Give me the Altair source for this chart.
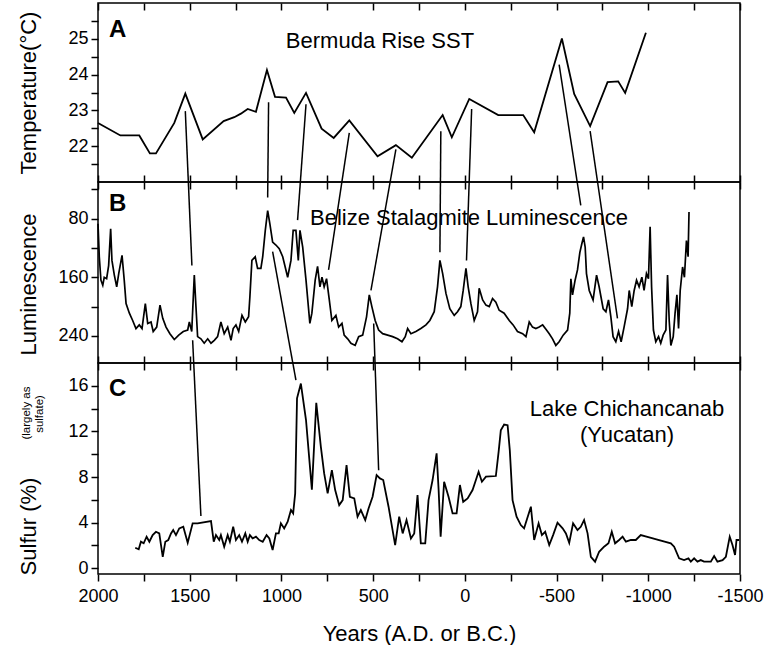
import altair as alt
import pandas as pd

FONT = "Liberation Sans"

# ---------------- Panel A: Bermuda Rise SST ----------------
sst_year = [2000, 1878, 1775, 1717, 1684, 1584, 1524, 1429, 1315, 1257,
            1221, 1184, 1139, 1079, 1035, 975, 930, 866, 781, 715,
            630, 476, 376, 289, 121, 71, -24, -182, -318, -378,
            -529, -596, -683, -778, -836, -874, -987]
sst_temp = [22.65, 22.30, 22.30, 21.80, 21.80, 22.65, 23.47, 22.19, 22.70, 22.81,
            22.91, 23.04, 22.96, 24.13, 23.38, 23.36, 22.93, 23.49, 22.49, 22.23,
            22.72, 21.72, 22.03, 21.68, 22.87, 22.25, 23.32, 22.87, 22.87, 22.39,
            25.01, 23.46, 22.56, 23.79, 23.81, 23.49, 25.17]

# ---------------- Panel B: Belize stalagmite luminescence ----------------
lum_year = [2000, 1993, 1984, 1974, 1966, 1953, 1942, 1931, 1924, 1911,
            1898, 1887, 1869, 1857, 1847, 1829, 1811, 1793, 1775, 1760,
            1742, 1729, 1711, 1699, 1680, 1662, 1647, 1629, 1608, 1584,
            1560, 1535, 1511, 1502, 1489, 1475, 1466, 1457, 1439, 1421,
            1402, 1384, 1366, 1348, 1330, 1312, 1293, 1275, 1263, 1248,
            1233, 1215, 1197, 1179, 1172, 1161, 1143, 1130, 1112, 1102,
            1088, 1075, 1063, 1048, 1030, 1012, 993, 966, 948, 936,
            921, 908, 899, 884, 866, 845, 834, 816, 803, 790,
            779, 767, 754, 739, 725, 703, 688, 670, 658, 639,
            621, 598, 579, 557, 536, 521, 507, 489, 470, 448,
            421, 394, 367, 343, 325, 312, 294, 267, 240, 212,
            191, 167, 149, 136, 121, 103, 82, 58, 40, 22,
            9, -6, -18, -33, -51, -69, -78, -97, -115, -133,
            -151, -169, -187, -214, -242, -263, -287, -315, -333, -351,
            -369, -387, -405, -424, -442, -460, -478, -496, -514, -536,
            -560, -572, -578, -587, -601, -614, -627, -638, -647, -656,
            -663, -678, -699, -718, -732, -754, -769, -783, -796, -808,
            -823, -838, -852, -868, -887, -896, -910, -923, -936, -950,
            -965, -977, -990, -1001, -1010, -1018, -1028, -1041, -1056, -1068,
            -1081, -1096, -1105, -1114, -1123, -1136, -1146, -1156, -1165, -1174,
            -1187, -1197, -1208, -1217, -1222]
lum_value = [87, 132, 164, 171, 160, 162, 144, 94, 137, 157,
             173, 155, 130, 164, 196, 209, 219, 230, 225, 230,
             196, 223, 221, 234, 228, 198, 216, 228, 237, 245,
             239, 234, 232, 221, 234, 157, 200, 241, 244, 250,
             244, 250, 246, 241, 221, 237, 228, 246, 230, 225,
             234, 212, 221, 214, 187, 137, 132, 148, 148, 132,
             96, 69, 87, 112, 116, 121, 132, 160, 137, 96,
             96, 137, 96, 119, 164, 223, 209, 164, 145, 173,
             160, 173, 162, 191, 219, 212, 228, 223, 239, 244,
             250, 253, 241, 239, 214, 184, 200, 219, 232, 237,
             239, 241, 244, 248, 241, 230, 237, 234, 230, 225,
             219, 207, 173, 137, 155, 182, 203, 212, 207, 200,
             178, 148, 173, 196, 219, 207, 175, 191, 198, 200,
             189, 194, 205, 209, 219, 225, 234, 237, 241, 221,
             228, 230, 228, 225, 231, 237, 244, 253, 248, 239,
             232, 209, 162, 184, 164, 150, 126, 114, 105, 119,
             155, 178, 191, 157, 173, 203, 207, 191, 214, 241,
             248, 234, 248, 228, 203, 178, 200, 178, 164, 173,
             160, 178, 155, 162, 91, 173, 232, 248, 241, 250,
             239, 232, 157, 219, 253, 241, 209, 184, 230, 178,
             146, 160, 110, 132, 71]

# ---------------- Panel C: Lake Chichancanab sulfur ----------------
sulfur_year = [1797, 1778, 1766, 1751, 1735, 1720, 1702, 1684, 1666, 1647,
               1633, 1617, 1602, 1590, 1575, 1557, 1535, 1511, 1484, 1457,
               1384, 1369, 1357, 1339, 1330, 1312, 1293, 1281, 1263, 1248,
               1230, 1215, 1197, 1184, 1172, 1157, 1139, 1121, 1102, 1081,
               1066, 1048, 1030, 1015, 1003, 985, 966, 948, 936, 925,
               915, 894, 866, 834, 810, 785, 767, 748, 725, 707,
               685, 666, 645, 627, 603, 585, 567, 543, 525, 503,
               481, 463, 445, 416, 380, 358, 339, 318, 294, 276,
               258, 240, 216, 198, 176, 154, 143, 132, 113, 89,
               67, 45, 27, 9, -15, -42, -75, -93, -115, -169,
               -184, -196, -214, -233, -245, -260, -282, -305, -323, -360,
               -378, -402, -420, -438, -460, -481, -505, -533, -551, -569,
               -590, -614, -632, -650, -669, -687, -710, -732, -759, -783,
               -801, -819, -841, -860, -878, -905, -932, -959, -1005, -1059,
               -1123, -1141, -1168, -1195, -1219, -1232, -1250, -1268, -1286, -1304,
               -1341, -1359, -1377, -1405, -1423, -1444, -1459, -1473, -1481, -1495]
sulfur_pct = [1.80, 1.66, 2.33, 2.19, 2.77, 2.33, 2.91, 3.20, 3.06, 1.01,
              2.33, 2.48, 3.06, 3.35, 2.91, 3.50, 3.64, 2.24, 3.94, 3.94,
              4.14, 2.33, 2.91, 2.48, 2.91, 1.89, 2.91, 2.33, 3.64, 2.48,
              2.91, 2.33, 3.06, 2.33, 2.91, 2.62, 2.77, 2.48, 2.33, 2.91,
              2.62, 1.60, 3.06, 3.06, 3.94, 3.50, 4.08, 5.11, 4.82, 6.57,
              14.9, 16.2, 13.0, 6.9, 14.5, 10.65, 8.32, 6.57, 8.61, 6.86,
              5.54, 5.98, 9.05, 6.27, 6.13, 4.52, 5.11, 4.23, 5.25, 6.27,
              8.17, 7.88, 7.74, 5.40, 2.04, 4.52, 3.06, 4.23, 2.62, 3.06,
              6.42, 2.19, 2.19, 5.98, 7.74, 10.08, 6.86, 2.77, 7.59, 6.27,
              4.82, 4.82, 7.30, 5.83, 6.13, 6.86, 8.46, 7.59, 8.03, 8.09,
              10.2, 12.1, 12.6, 12.55, 10.36, 5.98, 4.52, 3.79, 3.50, 5.40,
              2.48, 3.94, 2.91, 3.20, 2.04, 2.91, 4.00, 3.50, 3.06, 2.24,
              3.94, 3.35, 3.64, 4.23, 3.06, 1.01, 0.58, 1.45, 1.89, 2.19,
              3.20, 2.19, 2.48, 2.77, 2.33, 2.48, 2.48, 2.91, 2.71, 2.48,
              2.19, 1.89, 0.87, 0.72, 0.87, 0.58, 0.87, 0.58, 0.72, 0.58,
              0.58, 1.07, 0.58, 0.72, 1.01, 2.77, 2.04, 1.17, 2.48, 2.48]

# ---------------- correlation lines between panels ----------------
ab_year_top = [1524, 1070, 866, 630, 376, 131, -37, -514, -683]
ab_temp = [22.98, 23.23, 23.17, 22.37, 21.91, 22.42, 23.04, 24.28, 22.42]
ab_year_bot = [1488, 1075, 912, 743, 512, 136, -9, -632, -832]
ab_lum = [144, 51, 82, 150, 178, 126, 137, 62, 216]

bc_year_top = [1484, 1048, 497]
bc_lum = [246, 125, 223]
bc_year_bot = [1439, 921, 470]
bc_sulfur = [4.58, 16.5, 8.6]

assert len(lum_year) == len(lum_value)
assert len(sulfur_year) == len(sulfur_pct)
assert len(sst_year) == len(sst_temp)

# ---------------- layout ----------------
A_DOM = [21, 26]
B_DOM = [30, 277]
C_DOM = [-0.5, 18]
H_A, H_B, H_C = 179, 181, 211
W = 642


def a_to_px(v):
    return (A_DOM[1] - v) / (A_DOM[1] - A_DOM[0]) * H_A


def b_to_px(v):
    return H_A + (v - B_DOM[0]) / (B_DOM[1] - B_DOM[0]) * H_B


def c_to_px(v):
    return H_A + H_B + (C_DOM[1] - v) / (C_DOM[1] - C_DOM[0]) * H_C


def px_to_a(p):
    return A_DOM[1] - p / H_A * (A_DOM[1] - A_DOM[0])


def px_to_b(p):
    return B_DOM[0] + (p - H_A) / H_B * (B_DOM[1] - B_DOM[0])


def px_to_c(p):
    return C_DOM[1] - (p - H_A - H_B) / H_C * (C_DOM[1] - C_DOM[0])


sst = pd.DataFrame({"year": sst_year, "v": sst_temp, "i": range(len(sst_year))})
lum = pd.DataFrame({"year": lum_year, "v": lum_value, "i": range(len(lum_year))})
sul = pd.DataFrame({"year": sulfur_year, "v": sulfur_pct, "i": range(len(sulfur_year))})

ab = pd.DataFrame({"x": ab_year_top, "x2": ab_year_bot})
ab["ya"] = ab_temp
ab["yb_in_a"] = [px_to_a(b_to_px(v)) for v in ab_lum]
ab["ya_in_b"] = [px_to_b(a_to_px(v)) for v in ab_temp]
ab["yb"] = ab_lum

bc = pd.DataFrame({"x": bc_year_top, "x2": bc_year_bot})
bc["yb"] = bc_lum
bc["yc_in_b"] = [px_to_b(c_to_px(v)) for v in bc_sulfur]
bc["yb_in_c"] = [px_to_c(b_to_px(v)) for v in bc_lum]
bc["yc"] = bc_sulfur

x_scale = alt.Scale(domain=[-1500, 2000], reverse=True, nice=False, zero=False)
x_ticks = list(range(-1500, 2001, 250))
X_MAJOR = "datum.value % 500 === 0"


def x_axis(orient, labels=False, title=None, offset=0, size=7):
    kw = dict(orient=orient, values=x_ticks, grid=False, domain=False,
              tickColor="black", tickWidth=1.5, tickSize=size, labels=labels,
              labelFlush=False, labelOverlap=False, offset=offset)
    if labels:
        kw["labelExpr"] = X_MAJOR + " ? '' + datum.value : ''"
        kw["labelFontSize"] = 18
        kw["labelPadding"] = 6
    if title is not None:
        kw["title"] = title
        kw["titleFontSize"] = 22
        kw["titleFontWeight"] = "normal"
        kw["titlePadding"] = 18
    else:
        kw["title"] = None
    return alt.Axis(**kw)


def y_axis(values, major_test, title, title_y):
    return alt.Axis(values=values, grid=False, domain=False, tickColor="black",
                    tickWidth=1.5, tickSize=7,
                    labelExpr=major_test + " ? '' + datum.value : ''",
                    labelFontSize=18, labelPadding=3, labelOverlap=False,
                    title=title, titleFontSize=22, titleFontWeight="normal",
                    titleX=-70, titleY=title_y, titleAngle=270,
                    titleAlign="center", titleBaseline="middle")


def label_text(text, x, y, size=22, bold=False, align="center"):
    return alt.Chart(pd.DataFrame({"t": [text]})).mark_text(
        font=FONT, fontSize=size, fontWeight="bold" if bold else "normal",
        align=align, baseline="middle", color="black"
    ).encode(text="t:N", x=alt.value(x), y=alt.value(y))


# ---- Panel A ----
yA = alt.Scale(domain=A_DOM, nice=False, zero=False)
axA = y_axis([21.5, 22, 22.5, 23, 23.5, 24, 24.5, 25, 25.5],
             "datum.value % 1 === 0", "Temperature(°C)", H_A / 2)
a_line = alt.Chart(sst).mark_line(color="black", strokeWidth=1.8).encode(
    x=alt.X("year:Q", scale=x_scale, axis=x_axis("bottom")),
    y=alt.Y("v:Q", scale=yA, axis=axA),
    order="i:Q",
)
a_conn = alt.Chart(ab).mark_rule(color="black", strokeWidth=1.5, clip=True).encode(
    x=alt.X("x:Q", scale=x_scale, axis=x_axis("top", offset=-7, size=7)),
    x2="x2:Q",
    y=alt.Y("ya:Q", scale=yA, axis=axA),
    y2="yb_in_a:Q",
)
panelA = alt.layer(
    a_line, a_conn,
    label_text("A", 11, 27, size=24, bold=True, align="left"),
    label_text("Bermuda Rise SST", 282, 38),
).resolve_axis(x="independent").properties(width=W, height=H_A)

# ---- Panel B ----
yB = alt.Scale(domain=B_DOM, reverse=True, nice=False, zero=False)
axB = y_axis([40, 80, 120, 160, 200, 240],
             "datum.value % 80 === 0", "Luminescence", 102)
b_line = alt.Chart(lum).mark_line(color="black", strokeWidth=1.7).encode(
    x=alt.X("year:Q", scale=x_scale, axis=x_axis("bottom")),
    y=alt.Y("v:Q", scale=yB, axis=axB),
    order="i:Q",
)
b_conn_up = alt.Chart(ab).mark_rule(color="black", strokeWidth=1.5, clip=True).encode(
    x=alt.X("x:Q", scale=x_scale, axis=x_axis("top")),
    x2="x2:Q",
    y=alt.Y("ya_in_b:Q", scale=yB, axis=axB),
    y2="yb:Q",
)
b_conn_dn = alt.Chart(bc).mark_rule(color="black", strokeWidth=1.5, clip=True).encode(
    x=alt.X("x:Q", scale=x_scale, axis=None),
    x2="x2:Q",
    y=alt.Y("yb:Q", scale=yB, axis=axB),
    y2="yc_in_b:Q",
)
panelB = alt.layer(
    b_line, b_conn_up, b_conn_dn,
    label_text("B", 11, 22, size=24, bold=True, align="left"),
    label_text("Belize Stalagmite Luminescence", 371, 36),
).resolve_axis(x="independent").properties(width=W, height=H_B)

# ---- Panel C ----
yC = alt.Scale(domain=C_DOM, nice=False, zero=False)
axC = y_axis([0, 2, 4, 6, 8, 10, 12, 14, 16],
             "datum.value % 4 === 0", "Sulfur (%)", 163)
c_line = alt.Chart(sul).mark_line(color="black", strokeWidth=1.8).encode(
    x=alt.X("year:Q", scale=x_scale,
            axis=x_axis("bottom", labels=True, title="Years (A.D. or B.C.)")),
    y=alt.Y("v:Q", scale=yC, axis=axC),
    order="i:Q",
)
c_conn = alt.Chart(bc).mark_rule(color="black", strokeWidth=1.5, clip=True).encode(
    x=alt.X("x:Q", scale=x_scale, axis=x_axis("top")),
    x2="x2:Q",
    y=alt.Y("yb_in_c:Q", scale=yC, axis=axC),
    y2="yc:Q",
)


def side_text(text, x, y):
    return alt.Chart(pd.DataFrame({"t": [text]})).mark_text(
        font=FONT, fontSize=11.5, angle=270, align="center", baseline="middle",
        color="black"
    ).encode(text="t:N", x=alt.value(x), y=alt.value(y))


panelC = alt.layer(
    c_line, c_conn,
    label_text("C", 11, 26, size=24, bold=True, align="left"),
    label_text("Lake Chichancanab", 529, 46),
    label_text("(Yucatan)", 529, 72),
    side_text("(largely as", -71, 50),
    side_text("sulfate)", -58, 51),
).resolve_axis(x="independent").properties(width=W, height=H_C)

chart = alt.vconcat(panelA, panelB, panelC, spacing=0, bounds="flush").properties(
    padding={"left": 16, "top": 1, "right": 0, "bottom": 0}
).configure_view(
    stroke="black", strokeWidth=1.5
).configure_axis(
    labelFont=FONT, titleFont=FONT, labelColor="black", titleColor="black"
).configure_text(font=FONT)

chart.save("out.html", embed_options={"renderer": "svg", "actions": False})
